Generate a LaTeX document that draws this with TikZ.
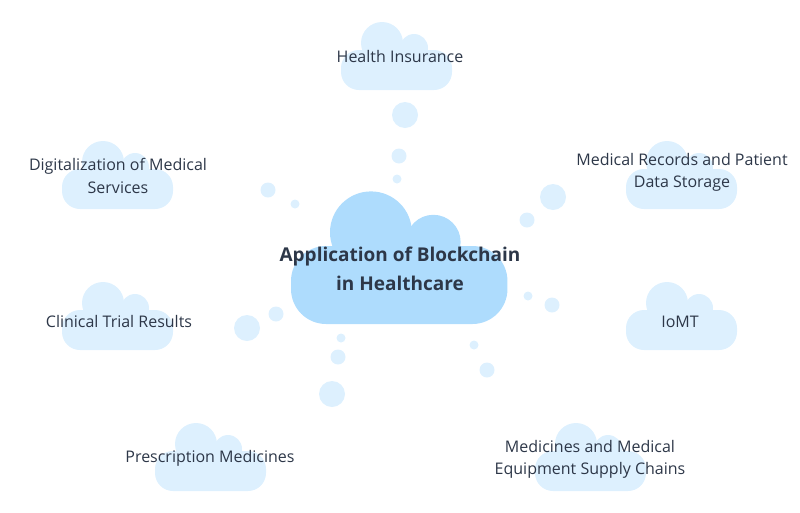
\documentclass[tikz,border=0pt]{standalone}
\usepackage{fontspec}
\setmainfont{Open Sans}
\usepackage{tikz}
\usetikzlibrary{positioning}
\definecolor{skyblue}{RGB}{174,220,253}
\definecolor{paleblue}{RGB}{221,240,254}
\definecolor{inkslate}{RGB}{45,55,72}

\tikzset{
    pics/cloud/.style={code={
        \fill[rounded corners=#1] (0,0) rectangle (111,-40);
        \fill (41,-47) circle[radius=21pt];
        \fill (73,-42) circle[radius=14pt];
    }},
    smallcloud/.style={fill=paleblue},
    bigcloud/.style={fill=skyblue, scale=1.95},
    bubble/.style={fill=paleblue},
    label/.style={text=inkslate, align=center, inner sep=0pt,
        font=\fontsize{16}{22.5}\selectfont},
    title/.style={text=inkslate, align=center, inner sep=0pt,
        font=\fontsize{19}{29}\selectfont\bfseries},
}

\begin{document}
\begin{tikzpicture}[x=1pt, y=-1pt]
    \useasboundingbox (0,0) rectangle (800,512);

    % clouds
    \pic[smallcloud] at (341,90) {cloud=18pt};
    \pic[smallcloud] at (62,209) {cloud=18pt};
    \pic[smallcloud] at (626,209) {cloud=18pt};
    \pic[smallcloud] at (62,350) {cloud=18pt};
    \pic[smallcloud] at (626,350) {cloud=18pt};
    \pic[smallcloud] at (155,491) {cloud=18pt};
    \pic[smallcloud] at (535,491) {cloud=18pt};
    \pic[bigcloud] at (291,324) {cloud=35pt};

    % bubbles
    \foreach \bx/\by/\br in {405/115/13, 399/156/7.5, 397/179/4.5,
                             268/190/7.5, 295/204/4.5,
                             553/197/13, 527/220/7.5, 503/249/1,
                             528/296/4.5, 552/305/7.5,
                             247/328/13, 276/314/7.5,
                             341/338/4.5, 338/357/7.5, 332/394/13,
                             474/345/4.5, 487/370/7.5}
        \fill[bubble] (\bx,\by) circle[radius=\br pt];

    % texts
    \node[title] (core) at (400,268.5) {Application of Blockchain\\in Healthcare};
    \node[label] (insurance) at (400,56) {Health Insurance};
    \node[label] (digital) at (118,176) {Digitalization of Medical\\Services};
    \node[label] (records) at (682,172.5) {Medical Records and Patient\\Data Storage};
    \node[label] (trials) at (119,321) {Clinical Trial Results};
    \node[label] (iomt) at (680,322) {IoMT};
    \node[label] (prescription) at (210,458.5) {Prescription Medicines};
    \node[label] (supply) at (590,459.5) {Medicines and Medical\\Equipment Supply Chains};
\end{tikzpicture}
\end{document}
